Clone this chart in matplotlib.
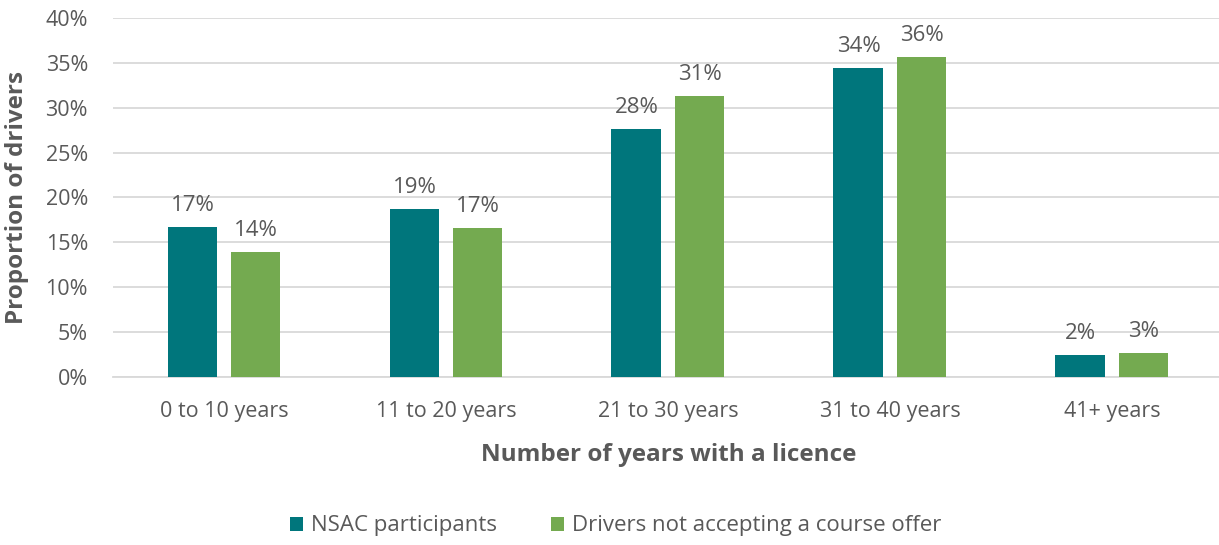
import matplotlib.pyplot as plt
import numpy as np

# 数据
categories = ['0 to 10 years', '11 to 20 years', '21 to 30 years', '31 to 40 years', '41+ years']
nsac = [16.7, 18.7, 27.6, 34.4, 2.45]
drivers = [13.9, 16.6, 31.3, 35.6, 2.7]
series_names = ['NSAC participants', 'Drivers not accepting a course offer']

plt.rcParams['font.family'] = ['Open Sans', 'DejaVu Sans']
grey = '#595959'
teal = '#00767C'
green = '#74AA50'

fig = plt.figure(figsize=(12.19, 5.45), dpi=100)
ax = fig.add_axes([0.0927, 0.3083, 0.9073, 0.6587])

x = np.arange(len(categories))
w = 0.225
off = 0.142
b1 = ax.bar(x - off, nsac, w, color=teal, label=series_names[0], zorder=3)
b2 = ax.bar(x + off, drivers, w, color=green, label=series_names[1], zorder=3)

# 数据标签
for bars, vals in [(b1, nsac), (b2, drivers)]:
    for rect, v in zip(bars, vals):
        ax.annotate(f'{v:.0f}%', (rect.get_x() + rect.get_width() / 2, v),
                    xytext=(0, 8), textcoords='offset points',
                    ha='center', va='bottom', fontsize=16, color=grey, zorder=4)

ax.set_ylim(0, 40)
ax.set_xlim(-0.5, 4.482)
ax.set_yticks(np.arange(0, 41, 5))
ax.set_yticklabels([f'{t}%' for t in range(0, 41, 5)])
ax.set_xticks(x)
ax.set_xticklabels(categories)
ax.tick_params(axis='both', length=0, labelsize=15.5, colors=grey)
ax.tick_params(axis='x', pad=17)
ax.tick_params(axis='y', pad=18)

ax.grid(axis='y', color='#D9D9D9', linewidth=1.3, zorder=0)
for s in ['top', 'right', 'left']:
    ax.spines[s].set_visible(False)
ax.spines['bottom'].set_color('#D9D9D9')
ax.spines['bottom'].set_linewidth(1.3)

ax.set_xlabel('Number of years with a licence', fontsize=17.5, fontweight='bold',
              color=grey)
ax.xaxis.set_label_coords(0.5025, -0.185)
ax.set_ylabel('Proportion of drivers', fontsize=17.5, fontweight='bold',
              color=grey)
ax.yaxis.set_label_coords(-0.076, 0.5)

fig.legend(loc='center', bbox_to_anchor=(0.505, 0.035), ncol=2, frameon=False,
           fontsize=16, labelcolor=grey, handlelength=0.6, handleheight=0.6,
           handletextpad=0.35, columnspacing=2.4)

fig.savefig('out.png', dpi=100)
